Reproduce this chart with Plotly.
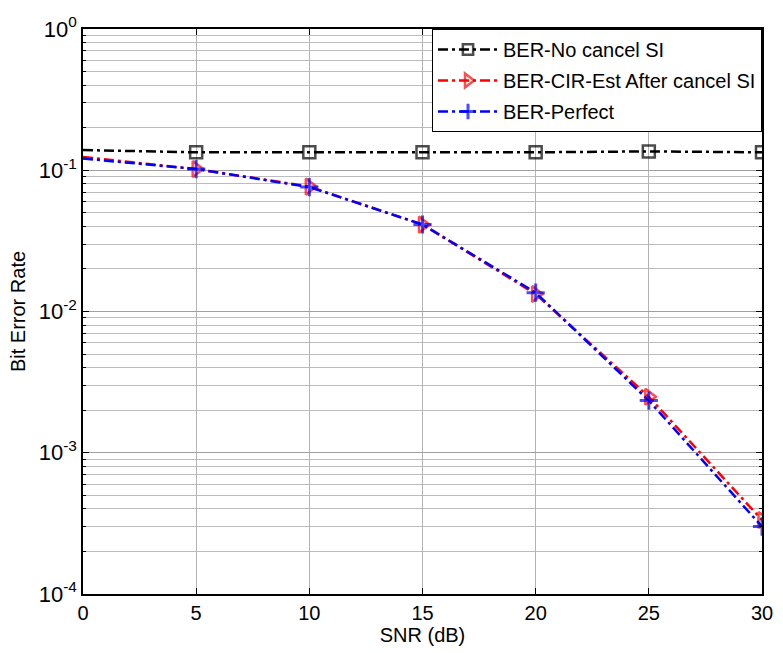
import plotly.graph_objects as go

# SNR sweep in dB
snr_db = [0, 5, 10, 15, 20, 25, 30]

# Bit error rates for each receiver
ber_no_cancel = [0.139, 0.134, 0.134, 0.134, 0.134, 0.136, 0.134]
ber_cir_est = [0.124, 0.102, 0.0766, 0.0412, 0.0133, 0.00249, 0.000334]
ber_perfect = [0.121, 0.102, 0.0760, 0.0413, 0.0136, 0.00234, 0.000300]

series_names = ["BER-No cancel SI", "BER-CIR-Est After cancel SI", "BER-Perfect"]

y_decades = [-4, -3, -2, -1, 0]
x_ticks = [0, 5, 10, 15, 20, 25, 30]

FONT = "Liberation Sans, Arial, sans-serif"
FS = 20
DASH = "10px,4px,3px,4px"

# no marker at the first sample
def marker_sizes(n, size):
    return [0] + [size] * (n - 1)

fig = go.Figure()

fig.add_trace(go.Scatter(
    x=snr_db, y=ber_no_cancel, name=series_names[0], mode="lines+markers",
    legendgroup="a",
    line=dict(color="black", width=2.5, dash=DASH),
    marker=dict(symbol="square-open", size=marker_sizes(len(snr_db), 12),
                color="black", line=dict(width=2.5, color="black")),
))
fig.add_trace(go.Scatter(
    x=snr_db, y=ber_cir_est, name=series_names[1], mode="lines+markers",
    legendgroup="b",
    line=dict(color="red", width=2.5, dash=DASH),
    marker=dict(symbol="triangle-right-open", size=marker_sizes(len(snr_db), 14),
                color="red", line=dict(width=2.5, color="red")),
))
fig.add_trace(go.Scatter(
    x=snr_db, y=ber_perfect, name=series_names[2], mode="lines+markers",
    legendgroup="c",
    line=dict(color="blue", width=2.5, dash=DASH),
    marker=dict(symbol="cross-thin-open", size=marker_sizes(len(snr_db), 13),
                color="blue", line=dict(width=3, color="blue")),
))

minor_vals = [k * 10.0 ** e for e in range(-4, 0) for k in range(2, 10)]

fig.update_layout(
    width=783, height=653,
    margin=dict(l=83, r=10, t=29, b=59),
    paper_bgcolor="white", plot_bgcolor="white",
    font=dict(family=FONT, size=FS, color="black"),
    showlegend=True,
    legend=dict(
        x=1, y=1, xanchor="right", yanchor="top",
        bgcolor="white", bordercolor="black", borderwidth=1,
        font=dict(family=FONT, size=FS, color="black"),
        traceorder="grouped", tracegroupgap=2, itemwidth=60,
    ),
    xaxis=dict(
        range=[0, 30], tickvals=x_ticks, ticktext=[str(v) for v in x_ticks],
        showgrid=True, gridcolor="#b4b4b4", gridwidth=1,
        showline=True, linecolor="black", linewidth=1.5, mirror="ticks",
        ticks="inside", ticklen=6, tickcolor="black",
        zeroline=False,
        title=dict(text="SNR (dB)", font=dict(family=FONT, size=FS), standoff=2),
        tickfont=dict(family=FONT, size=FS),
    ),
    yaxis=dict(
        type="log", range=[-4, 0],
        tickvals=[10.0 ** d for d in y_decades],
        ticktext=["10<sup>%d</sup>" % d for d in y_decades],
        showgrid=True, gridcolor="#a0a0a0", gridwidth=1,
        minor=dict(tickvals=minor_vals, showgrid=True, gridcolor="#bcbcbc",
                   gridwidth=1, ticks="inside", ticklen=3, tickcolor="black"),
        showline=True, linecolor="black", linewidth=1.5, mirror="ticks",
        ticks="inside", ticklen=6, tickcolor="black",
        zeroline=False,
        title=dict(text="Bit Error Rate", font=dict(family=FONT, size=FS), standoff=8),
        tickfont=dict(family=FONT, size=FS + 2),
    ),
)

fig.write_html("out.html")
